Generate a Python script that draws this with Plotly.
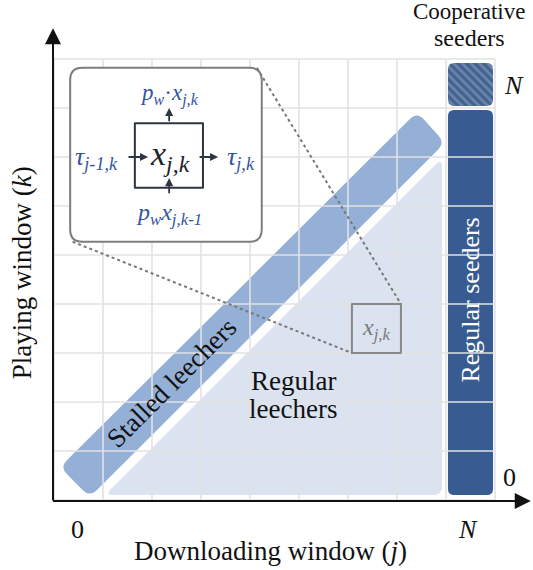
import numpy as np
import plotly.graph_objects as go

# ---- data (cell units: one grid cell = one window) ----
grid_ticks = list(range(0, 10))            # grid lines at window boundaries 0..9
axis_labels_x = ["0", "<i>N</i>"]
axis_labels_y = ["0", "<i>N</i>"]
label_cells = [0, 8]                       # cells that carry the 0 / N labels

stalled_band = [(0.12, 0.67), (0.73, 0.06), (7.98, 7.29), (7.41, 7.92)]
regular_leechers = [(1.04, 0.10), (7.92, 0.10), (7.92, 6.98)]
regular_seeders = [(8.04, 0.10), (8.96, 0.10), (8.96, 7.96), (8.04, 7.96)]
coop_seeders = [(8.04, 8.04), (8.96, 8.04), (8.96, 8.92), (8.04, 8.92)]
inset_box = [(0.33, 5.27), (4.24, 5.27), (4.24, 8.82), (0.33, 8.82)]
cell_square = [(1.65, 6.37), (3.04, 6.37), (3.04, 7.69), (1.65, 7.69)]
zoom_cell = [(6.08, 3.0), (7.08, 3.0), (7.08, 4.0), (6.08, 4.0)]

C_BAND = "#95b0d7"
C_TRI = "#dce3f0"
C_SEED = "#385b91"
C_GRID = "#e2e2e2"
C_BLUE_TXT = "#34549e"
FONT = "Liberation Serif"

UNIT = 49.0


def rpath(pts, r):
    P = np.array(pts, float)
    n = len(P)
    parts = []
    for i in range(n):
        p, a, b = P[i], P[i - 1], P[(i + 1) % n]
        d1 = (a - p) / np.linalg.norm(a - p)
        d2 = (b - p) / np.linalg.norm(b - p)
        s, e = p + d1 * r, p + d2 * r
        parts.append(("L" if i else "M") + f"{s[0]:.4f},{s[1]:.4f} Q{p[0]:.4f},{p[1]:.4f} {e[0]:.4f},{e[1]:.4f}")
    return " ".join(parts) + " Z"


def rpoints(pts, r, k=10):
    P = np.array(pts, float)
    n = len(P)
    xs, ys = [], []
    for i in range(n):
        p, a, b = P[i], P[i - 1], P[(i + 1) % n]
        d1 = (a - p) / np.linalg.norm(a - p)
        d2 = (b - p) / np.linalg.norm(b - p)
        s, e = p + d1 * r, p + d2 * r
        for t in np.linspace(0, 1, k):
            q = (1 - t) ** 2 * s + 2 * (1 - t) * t * p + t ** 2 * e
            xs.append(q[0]); ys.append(q[1])
    xs.append(xs[0]); ys.append(ys[0])
    return xs, ys


fig = go.Figure()

shapes = []
# filled regions (below traces)
shapes.append(dict(type="path", path=rpath(regular_leechers, 0.18), fillcolor=C_TRI, line=dict(width=0), layer="below"))
shapes.append(dict(type="path", path=rpath(stalled_band, 0.2), fillcolor=C_BAND, line=dict(width=0), layer="below"))
shapes.append(dict(type="path", path=rpath(regular_seeders, 0.13), fillcolor=C_SEED, line=dict(width=0), layer="below"))

# cooperative seeders (hatched)
cx, cy = rpoints(coop_seeders, 0.13)
fig.add_trace(go.Scatter(x=cx, y=cy, mode="lines", fill="toself", line=dict(width=0),
                         fillcolor="#46648f",
                         fillpattern=dict(shape="\\", bgcolor="#44628f", fgcolor="#91a7c8", size=6, solidity=0.45),
                         hoverinfo="skip", showlegend=False))

# grid lines
for g in grid_ticks:
    shapes.append(dict(type="line", x0=g, x1=g, y0=0, y1=9, line=dict(color=C_GRID, width=1.6), layer="above"))
    shapes.append(dict(type="line", x0=0, x1=9, y0=g, y1=g, line=dict(color=C_GRID, width=1.6), layer="above"))

# zoomed cell box
shapes.append(dict(type="path", path=rpath(zoom_cell, 0.001), fillcolor=C_TRI, line=dict(color="#888888", width=2), layer="above"))
# dashed connectors
shapes.append(dict(type="line", x0=inset_box[2][0] - 0.1, y0=inset_box[2][1], x1=zoom_cell[2][0], y1=zoom_cell[2][1],
                   line=dict(color="#777777", width=2, dash="dot"), layer="above"))
shapes.append(dict(type="line", x0=inset_box[0][0] + 0.05, y0=inset_box[0][1], x1=zoom_cell[0][0], y1=zoom_cell[0][1],
                   line=dict(color="#777777", width=2, dash="dot"), layer="above"))
# inset box
shapes.append(dict(type="path", path=rpath(inset_box, 0.25), fillcolor="white", line=dict(color="#7d7d7d", width=2), layer="above"))
shapes.append(dict(type="path", path=rpath(cell_square, 0.001), fillcolor="rgba(0,0,0,0)", line=dict(color="#2d3540", width=2), layer="above"))

ann = []


def arrow(x, y, ax, ay, w, s, color):
    ann.append(dict(x=x, y=y, ax=ax, ay=ay, xref="x", yref="y", axref="x", ayref="y", text=" ",
                    showarrow=True, arrowhead=2, arrowsize=s, arrowwidth=w, arrowcolor=color,
                    font=dict(size=1)))


# axes
arrow(-0.02, 9.63, -0.02, -0.05, 2, 1.6, "#111111")
arrow(9.73, -0.02, -0.05, -0.02, 2, 1.6, "#111111")
# inset flow arrows
arrow(2.35, 8.0, 2.35, 7.69, 1.8, 0.9, "#2d3540")
arrow(1.92, 7.0, 1.49, 7.0, 1.8, 0.9, "#2d3540")
arrow(3.35, 7.0, 2.94, 7.0, 1.8, 0.9, "#2d3540")
arrow(2.35, 6.57, 2.35, 6.22, 1.8, 0.9, "#2d3540")


def text(x, y, s, size, color="#111111", angle=0):
    ann.append(dict(x=x, y=y, xref="x", yref="y", text=s, showarrow=False, textangle=angle,
                    xanchor="center", yanchor="middle", font=dict(family=FONT, size=size, color=color)))


# tick labels
text(label_cells[0] + 0.48, -0.6, axis_labels_x[0], 26)
text(label_cells[1] + 0.45, -0.6, axis_labels_x[1], 26)
text(9.29, label_cells[0] + 0.45, axis_labels_y[0], 26)
text(9.38, label_cells[1] + 0.46, axis_labels_y[1], 26)

# axis titles
text(4.41, -1.04, "Downloading window (<i>j</i>)", 27)
text(-0.65, 4.63, "Playing window (<i>k</i>)", 27, angle=-90)

# region labels
text(8.46, 9.97, "Cooperative", 23)
text(8.47, 9.42, "seeders", 24)
text(8.5, 4.08, "Regular seeders", 26, color="white", angle=-90)
text(2.4, 2.38, "Stalled leechers", 27, angle=-45)
text(4.88, 2.42, "Regular", 27)
text(4.88, 1.86, "leechers", 27)

# inset labels
text(2.35, 8.28, "<i>p</i><sub><i>w</i></sub>·<i>x</i><sub><i>j,k</i></sub>", 23, C_BLUE_TXT)
text(0.86, 6.98, "<i>τ</i><sub><i>j-1,k</i></sub>", 26, C_BLUE_TXT)
text(3.82, 6.98, "<i>τ</i><sub><i>j,k</i></sub>", 26, C_BLUE_TXT)
text(2.37, 7.02, "<i>x</i><sub><i>j,k</i></sub>", 34, "#1d232b")
text(2.35, 5.84, "<i>p</i><sub><i>w</i></sub><i>x</i><sub><i>j,k-1</i></sub>", 24, C_BLUE_TXT)
text(6.58, 3.5, "<i>x</i><sub><i>j,k</i></sub>", 24, "#7a7a7a")

# axis ranges: pixel 54 <-> j=0, pixel 500 <-> k=0, one cell = 49 px
x0_px, y0_px = 54, 500
fig.update_layout(
    width=533, height=570,
    margin=dict(l=0, r=0, t=0, b=0),
    paper_bgcolor="white", plot_bgcolor="white",
    shapes=shapes, annotations=ann, showlegend=False,
    xaxis=dict(visible=False, range=[-x0_px / UNIT, (533 - x0_px) / UNIT], fixedrange=True),
    yaxis=dict(visible=False, range=[-(570 - y0_px) / UNIT, y0_px / UNIT], fixedrange=True),
)

fig.write_html("out.html", config={"displayModeBar": False},
               post_script="document.body.style.margin='0px';")
